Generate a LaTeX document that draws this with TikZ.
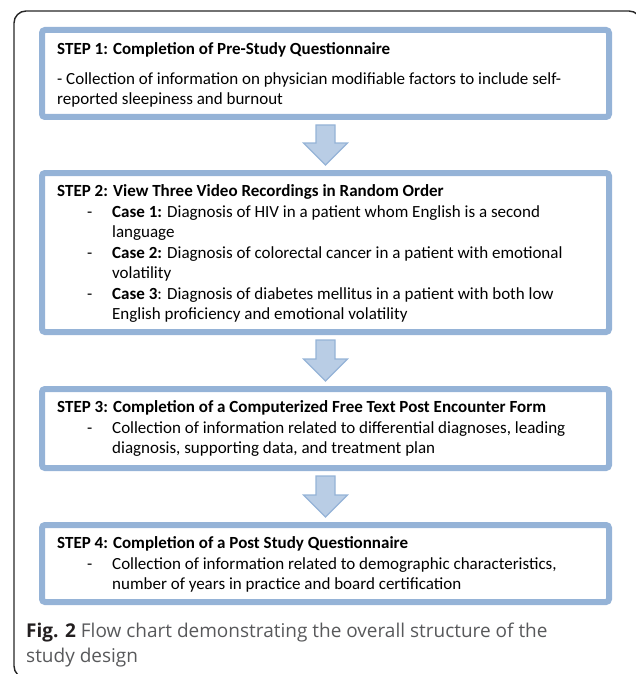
\documentclass[tikz,border=0pt]{standalone}
\usepackage{fontspec}
\setmainfont{Carlito}
\newfontfamily\capfont{Open Sans}
\usetikzlibrary{calc}
\definecolor{boxblue}{HTML}{95B3D7}
\definecolor{arrowfill}{HTML}{B9CDE5}
\definecolor{capgray}{HTML}{58595B}
\definecolor{capdark}{HTML}{231F20}
\newcommand\dashcell{\makebox[55pt][l]{\hspace*{30pt}-}}
\newcommand\blockarrowdraw[2]{%
  \path ($(#1.south)+(0,5)$) coordinate (atop) ($(#2.north)+(0,-5)$) coordinate (atip);
  \draw[blockarrow] ($(atop)+(-9.5,0)$) -- ($(atop)+(9.5,0)$) -- ($(atip)+(9.5,-22)$)
    -- ($(atip)+(22,-22)$) -- (atip) -- ($(atip)+(-22,-22)$) -- ($(atip)+(-9.5,-22)$) -- cycle;}
\begin{document}
\begin{tikzpicture}[x=1pt,y=-1pt,
  stepbox/.style={draw=boxblue, line width=6pt, rounded corners=3pt, minimum width=567pt, inner sep=0pt},
  steptext/.style={anchor=base west, inner sep=0pt, font=\fontsize{17}{20.5}\selectfont, text=black},
  captext/.style={anchor=base west, inner sep=0pt, font=\capfont\fontsize{19}{25}\selectfont, text=capgray},
  blockarrow/.style={draw=boxblue, fill=arrowfill, line width=1.2pt, line join=miter}]
\useasboundingbox (0,0) rectangle (635,674);
\draw[line width=1.4pt, draw=black!85, rounded corners=12pt] (14,11) rectangle (641,678);
\node[stepbox, minimum height=87pt] (b1) at (325.5,73.5) {};
\node[stepbox, minimum height=159pt] (b2) at (325.5,252.5) {};
\node[stepbox, minimum height=79pt] (b3) at (325.5,428.5) {};
\node[stepbox, minimum height=77pt] (b4) at (325.5,563.5) {};
\blockarrowdraw{b1}{b2}
\blockarrowdraw{b2}{b3}
\blockarrowdraw{b3}{b4}
\node[steptext] (t1) at ($(b1.north west)+(18,27.5)$) {\begin{tabular}[t]{@{}l@{}}
\textbf{STEP 1: Completion of Pre-Study Questionnaire}\\[9.5pt]
- Collection of information on physician modifiable factors to include self-\\
reported sleepiness and burnout
\end{tabular}};
\node[steptext] (t2) at ($(b2.north west)+(18,26.5)$) {\begin{tabular}[t]{@{}l@{}l@{}}
\multicolumn{2}{@{}l@{}}{\textbf{STEP 2: View Three Video Recordings in Random Order}}\\
\dashcell & \textbf{Case 1:} Diagnosis of HIV in a patient whom English is a second\\
 & language\\
\dashcell & \textbf{Case 2:} Diagnosis of colorectal cancer in a patient with emotional\\
 & volatility\\
\dashcell & \textbf{Case 3}: Diagnosis of diabetes mellitus in a patient with both low\\
 & English proficiency and emotional volatility
\end{tabular}};
\node[steptext] (t3) at ($(b3.north west)+(18,26.5)$) {\begin{tabular}[t]{@{}l@{}l@{}}
\multicolumn{2}{@{}l@{}}{\textbf{STEP 3: Completion of a Computerized Free Text Post Encounter Form}}\\
\dashcell & Collection of information related to differential diagnoses, leading\\
 & diagnosis, supporting data, and treatment plan
\end{tabular}};
\node[steptext] (t4) at ($(b4.north west)+(18,26.5)$) {\begin{tabular}[t]{@{}l@{}l@{}}
\multicolumn{2}{@{}l@{}}{\textbf{STEP 4: Completion of a Post Study Questionnaire}}\\
\dashcell & Collection of information related to demographic characteristics,\\
 & number of years in practice and board certification
\end{tabular}};
\node[captext] (cap) at (26,637) {\begin{tabular}[t]{@{}l@{}}
{\color{capdark}\textbf{Fig. 2}} Flow chart demonstrating the overall structure of the\\
study design
\end{tabular}};
\end{tikzpicture}
\end{document}
